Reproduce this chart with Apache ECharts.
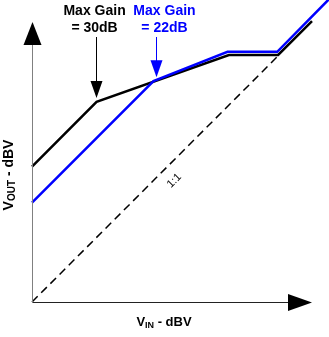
<!DOCTYPE html>
<html>
<head>
<meta charset="utf-8">
<script src="https://cdn.jsdelivr.net/npm/echarts@6/dist/echarts.min.js"></script>
<style>
  html, body { margin: 0; padding: 0; background: #fff; }
  #chart { width: 329px; height: 337px; }
</style>
</head>
<body>
<div id="chart"></div>
<script>
// Input / output levels in dBV for the two gain settings
const hiGainIn  = [0, 14.3, 43.6, 54.5, 62.0];
const hiGainOut = [30, 44.3, 54.7, 54.7, 62.2];
const loGainIn  = [0, 26.9, 43.3, 54.3, 66.0];
const loGainOut = [22, 48.9, 55.4, 55.4, 67.3];
// Unity (1:1) reference
const unityIn  = [0, 54.5];
const unityOut = [0, 54.5];
// Drawn axis extent in dBV (arrow tips)
const axisEnd = 62;
// Plot scale: 280 px per 62 dBV on both axes; the plot area runs to the page edge
const pxPerDb = 280 / 62;

const FONT = '"Liberation Sans", Arial, sans-serif';
const BLUE = '#0000ff';

const pairs = (xs, ys) => xs.map((x, i) => [x, ys[i]]);

const chart = echarts.init(document.getElementById('chart'), null, { renderer: 'canvas' });

const gridLeft = 32, gridBottom = 35;
const xMax = (329 - gridLeft) / pxPerDb;
const yMax = (337 - gridBottom) / pxPerDb;

const hiddenAxis = {
  type: 'value', min: 0,
  axisLine: { show: false }, axisTick: { show: false },
  axisLabel: { show: false }, splitLine: { show: false }
};

chart.setOption({
  animation: false,
  backgroundColor: '#fff',
  grid: { left: gridLeft, right: 0, top: 0, bottom: gridBottom },
  xAxis: Object.assign({}, hiddenAxis, { max: xMax }),
  yAxis: Object.assign({}, hiddenAxis, { max: yMax }),
  series: [
    {
      type: 'line', data: pairs(unityIn, unityOut), symbol: 'none', z: 2,
      lineStyle: { color: '#000', width: 1.5, type: [8, 5] }
    },
    {
      type: 'line', data: pairs(hiGainIn, hiGainOut), symbol: 'none', z: 3,
      lineStyle: { color: '#000', width: 2.5, join: 'miter' }
    },
    {
      type: 'line', data: pairs(loGainIn, loGainOut), symbol: 'none', z: 4,
      lineStyle: { color: BLUE, width: 2.5, join: 'miter' }
    }
  ]
});

const px = (x, y) => chart.convertToPixel({ gridIndex: 0 }, [x, y]);

// Axis lines with arrowheads
const org = px(0, 0);
const xEnd = px(axisEnd, 0);
const yEnd = px(0, axisEnd);
const ox = Math.round(org[0]) + 0.5, oy = Math.round(org[1]) + 0.5;
const elements = [
  { type: 'line', z: 9, shape: { x1: ox, y1: oy, x2: xEnd[0] - 20, y2: oy },
    style: { stroke: '#222', lineWidth: 1 } },
  { type: 'line', z: 9, shape: { x1: ox, y1: oy, x2: ox, y2: yEnd[1] + 20 },
    style: { stroke: '#808080', lineWidth: 1 } },
  {
    type: 'polygon', z: 10,
    shape: { points: [[xEnd[0], oy], [xEnd[0] - 24, oy - 8.5], [xEnd[0] - 24, oy + 8.5]] },
    style: { fill: '#000' }
  },
  {
    type: 'polygon', z: 10,
    shape: { points: [[ox, yEnd[1]], [ox - 9, yEnd[1] + 23], [ox + 9, yEnd[1] + 23]] },
    style: { fill: '#000' }
  }
];

// Callout arrow pointing down at a knee
function callout(knee, color, top, dx) {
  const tipX = Math.round(knee[0] + dx), tipY = knee[1] - 4;
  return [
    { type: 'line', z: 10, shape: { x1: tipX + 0.5, y1: top, x2: tipX + 0.5, y2: tipY - 10 },
      style: { stroke: color, lineWidth: 1 } },
    { type: 'polygon', z: 10,
      shape: { points: [[tipX + 0.5, tipY], [tipX - 5.5, tipY - 17], [tipX + 6.5, tipY - 17]] },
      style: { fill: color } }
  ];
}
const hiKnee = px(hiGainIn[1], hiGainOut[1]);
const loKnee = px(loGainIn[1], loGainOut[1]);
elements.push(...callout(hiKnee, '#000', 37, -1));
elements.push(...callout(loKnee, BLUE, 37, 3));

// Callout captions
function caption(text, cx, color) {
  return {
    type: 'text', z: 10, x: cx, y: 3,
    style: {
      text: text, fill: color, font: 'bold 14px ' + FONT,
      align: 'center', verticalAlign: 'top', lineHeight: 17
    }
  };
}
elements.push(caption('Max Gain\n= 30dB', hiKnee[0] - 2, '#000'));
elements.push(caption('Max Gain\n= 22dB', loKnee[0] + 11, BLUE));

// 1:1 label along the dashed line
const onUnity = px(31.5, 31.5);
elements.push({
  type: 'text', z: 10, x: onUnity[0], y: onUnity[1] + 21, rotation: Math.PI / 4,
  style: { text: '1:1', fill: '#000', fontFamily: 'Liberation Sans', fontSize: 11, align: 'center', verticalAlign: 'middle' }
});

// Axis titles with subscripts
elements.push({
  type: 'text', z: 10, x: 164, y: 322,
  style: {
    text: '{v|V}{s|IN}{v| - dBV}', align: 'center', verticalAlign: 'middle',
    rich: {
      v: { font: 'bold 13px ' + FONT, fill: '#000', lineHeight: 16 },
      s: { font: 'bold 9px ' + FONT, fill: '#000', lineHeight: 8, verticalAlign: 'bottom' }
    }
  }
});
elements.push({
  type: 'text', z: 10, x: 9, y: 175, rotation: Math.PI / 2,
  style: {
    text: '{v|V}{s|OUT}{v| - dBV}', align: 'center', verticalAlign: 'middle',
    rich: {
      v: { font: 'bold 14px ' + FONT, fill: '#000', lineHeight: 17 },
      s: { font: 'bold 10px ' + FONT, fill: '#000', lineHeight: 9, verticalAlign: 'bottom' }
    }
  }
});

chart.setOption({ graphic: { elements: elements } });
</script>
</body>
</html>
